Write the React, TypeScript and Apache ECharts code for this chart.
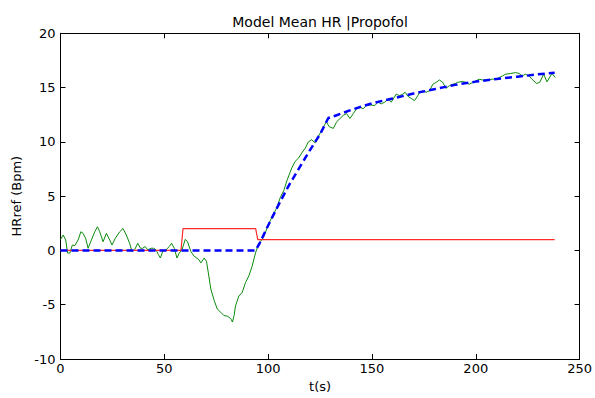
import React, { useEffect, useRef } from "react";
import * as echarts from "echarts";

const titleText = "Model Mean HR |Propofol";
const xName = "t(s)";
const yName = "HRref (Bpm)";
const xMin = 0, xMax = 250, xStep = 50;
const yMin = -10, yMax = 20, yStep = 5;

const measuredT = [
  0, 1.3, 2.5, 3.4, 4.5, 5.7, 6.9, 8.5, 9.8, 10.9, 12.1, 13.3, 14.9, 16.5, 17.8, 18.9, 20.5, 22.1, 23.7, 24.8,
  26.4, 28.5, 30.1, 31.7, 33.3, 34.4, 35.7, 37.2, 38.5, 39.6, 40.8, 42, 43.7, 44.9, 46, 47.2, 48.1, 49.2, 50.8,
  52.4, 53.5, 54.8, 56.1, 57.2, 58.5, 60.1, 61.2, 62.8, 64.4, 66.4, 67.6, 69.2, 70.3, 71.2, 72.4, 74, 75.5, 77.2,
  78.7, 80.3, 81.5, 82.2, 82.8, 83.6, 84.3, 85.9, 87.5, 89.1, 90.7, 92.3, 93.9, 95.5, 96.3, 97.9, 100.3, 101.9,
  104.3, 105.9, 107.5, 109, 109.9, 111.4, 113, 114.6, 116.2, 117.9, 119.4, 121, 122.6, 124.2, 126.4, 128, 129.4,
  131.4, 133, 134.6, 136.2, 137.8, 139.4, 141, 142.6, 144.2, 145.8, 147.3, 149, 151.4, 152.9, 154.5, 156.2, 157.7,
  159.3, 161.7, 163.3, 164.9, 166, 167.3, 168.9, 170.5, 172.1, 172.9, 174.5, 176.1, 177.7, 179.3, 180.9, 182.5,
  184.1, 185.6, 187.3, 188.8, 190.4, 191.2, 193.6, 195.2, 196.8, 198.4, 200, 201.6, 203.2, 205.6, 208, 210.4,
  212.8, 214.4, 216.7, 219.2, 220.8, 222.4, 223.9, 225.6, 227.1, 229.2, 230.8, 232.7, 234.3, 236.7, 238.3,
];
const measuredV = [
  1.0, 1.42, 0.97, -0.24, -0.24, 0.5, 0.45, 0.97, 1.72, 1.57, 1.12, 0.2, 0.97, 1.72, 2.18, 1.72, 0.8, 1.57, 0.97, 0.5,
  1.12, 1.72, 2.02, 1.42, 0.66, -0.1, 0.06, 0.66, 0.2, 0.2, 0.36, 0.06, 0.2, 0.2, 0.06, -0.4, -0.7, -0.1, 0.06,
  0.36, 0.66, 0.2, -0.7, -0.24, 0.06, 1.02, 0.8, -0.1, -0.54, -0.8, -1.15, -0.7, -1.0, -2.06, -3.56, -4.6, -5.4, -5.7,
  -6.0, -6.05, -6.2, -6.35, -6.6, -6.0, -5.1, -4.2, -3.87, -2.96, -2.36, -1.45, -0.24, 0.66, 0.8, 1.27, 2.47, 3.08,
  3.99, 4.9, 5.5, 6.4, 6.86, 7.6, 8.2, 8.5, 8.98, 9.43, 10.0, 10.2, 9.9, 10.5, 11.3, 11.85, 11.4,
  11.24, 11.85, 12.15, 12.45, 12.6, 12.15, 12.6, 13.05, 13.2, 13.05, 13.35, 13.4, 13.35, 13.66, 13.5, 13.66, 13.96,
  13.66, 14.4, 14.26, 14.4, 14.57, 14.2, 14.0, 13.8, 14.26, 14.57, 14.7, 14.57, 14.7, 15.3, 15.48, 15.7,
  15.48, 14.93, 15.17, 15.3, 15.4, 15.48, 15.57, 15.48, 15.3, 15.48, 15.6, 15.77, 15.7, 15.7, 15.77, 15.84,
  16.07, 16.23, 16.3, 16.38, 16.3, 16.07, 16.23, 16.07, 15.77, 15.38, 15.48, 16.23, 15.53, 16.3, 15.93,
];

const modelT = [0, 94, 96, 100, 105, 110, 115, 120, 125, 129, 133, 140, 150, 160, 170, 180, 190, 200, 210, 220, 230, 238];
const modelV = [0, 0, 0.7, 2.3, 4.2, 6.0, 7.6, 9.2, 10.7, 12.2, 12.45, 12.95, 13.55, 14.0, 14.45, 14.85, 15.25, 15.55, 15.8, 16.0, 16.22, 16.37];

const inputT = [0, 58, 59, 94, 95, 238];
const inputV = [0, 0, 2, 2, 1, 1];

const pairs = (t: number[], v: number[]) => t.map((x, i) => [x, v[i]]);

const FONT = "DejaVu Sans";

export default function App() {
  const ref = useRef<HTMLDivElement>(null);
  useEffect(() => {
    if (!ref.current) return;
    const chart = echarts.init(ref.current, null, { renderer: "svg" });
    const axisLine = { show: true, onZero: false, lineStyle: { color: "#000", width: 1 } };
    const tick = { show: true, inside: true, length: 5, lineStyle: { color: "#000" } };
    const label = { color: "#000", fontFamily: FONT, fontSize: 13 };
    chart.setOption({
      animation: false,
      backgroundColor: "#fff",
      title: {
        text: titleText,
        left: 315,
        textAlign: "center",
        top: 10,
        textStyle: { color: "#000", fontFamily: FONT, fontSize: 14, fontWeight: "normal" },
      },
      grid: { left: 60.5, right: 11.5, top: 33.3, bottom: 33.7, containLabel: false },
      xAxis: [
        {
          type: "value", min: xMin, max: xMax, interval: xStep, position: "bottom",
          axisLine, axisTick: tick, splitLine: { show: false },
          axisLabel: { ...label, margin: 3 },
          name: xName, nameLocation: "middle", nameGap: 21,
          nameTextStyle: { color: "#000", fontFamily: FONT, fontSize: 13 },
        },
        {
          type: "value", min: xMin, max: xMax, interval: xStep, position: "top",
          axisLine, axisTick: tick, splitLine: { show: false }, axisLabel: { show: false },
        },
      ],
      yAxis: [
        {
          type: "value", min: yMin, max: yMax, interval: yStep, position: "left",
          axisLine, axisTick: tick, splitLine: { show: false },
          axisLabel: { ...label, margin: 5 },
          name: yName, nameLocation: "middle", nameGap: 36,
          nameTextStyle: { color: "#000", fontFamily: FONT, fontSize: 13 },
        },
        {
          type: "value", min: yMin, max: yMax, interval: yStep, position: "right",
          axisLine, axisTick: tick, splitLine: { show: false }, axisLabel: { show: false },
        },
      ],
      series: [
        {
          type: "line", data: pairs(measuredT, measuredV), showSymbol: false, silent: true,
          lineStyle: { color: "#0a8a0a", width: 1 }, z: 2,
        },
        {
          type: "line", data: pairs(inputT, inputV), showSymbol: false, silent: true,
          lineStyle: { color: "#ff2a2a", width: 1.2 }, z: 3,
        },
        {
          type: "line", data: pairs(modelT, modelV), showSymbol: false, silent: true, smooth: false,
          lineStyle: { color: "#0000ff", width: 2.5, type: [7, 4] }, z: 4,
        },
      ],
    });
    return () => chart.dispose();
  }, []);
  return (
    <div
      ref={ref}
      style={{ position: "absolute", left: 0, top: 0, width: 595, height: 398, background: "#fff" }}
    />
  );
}
